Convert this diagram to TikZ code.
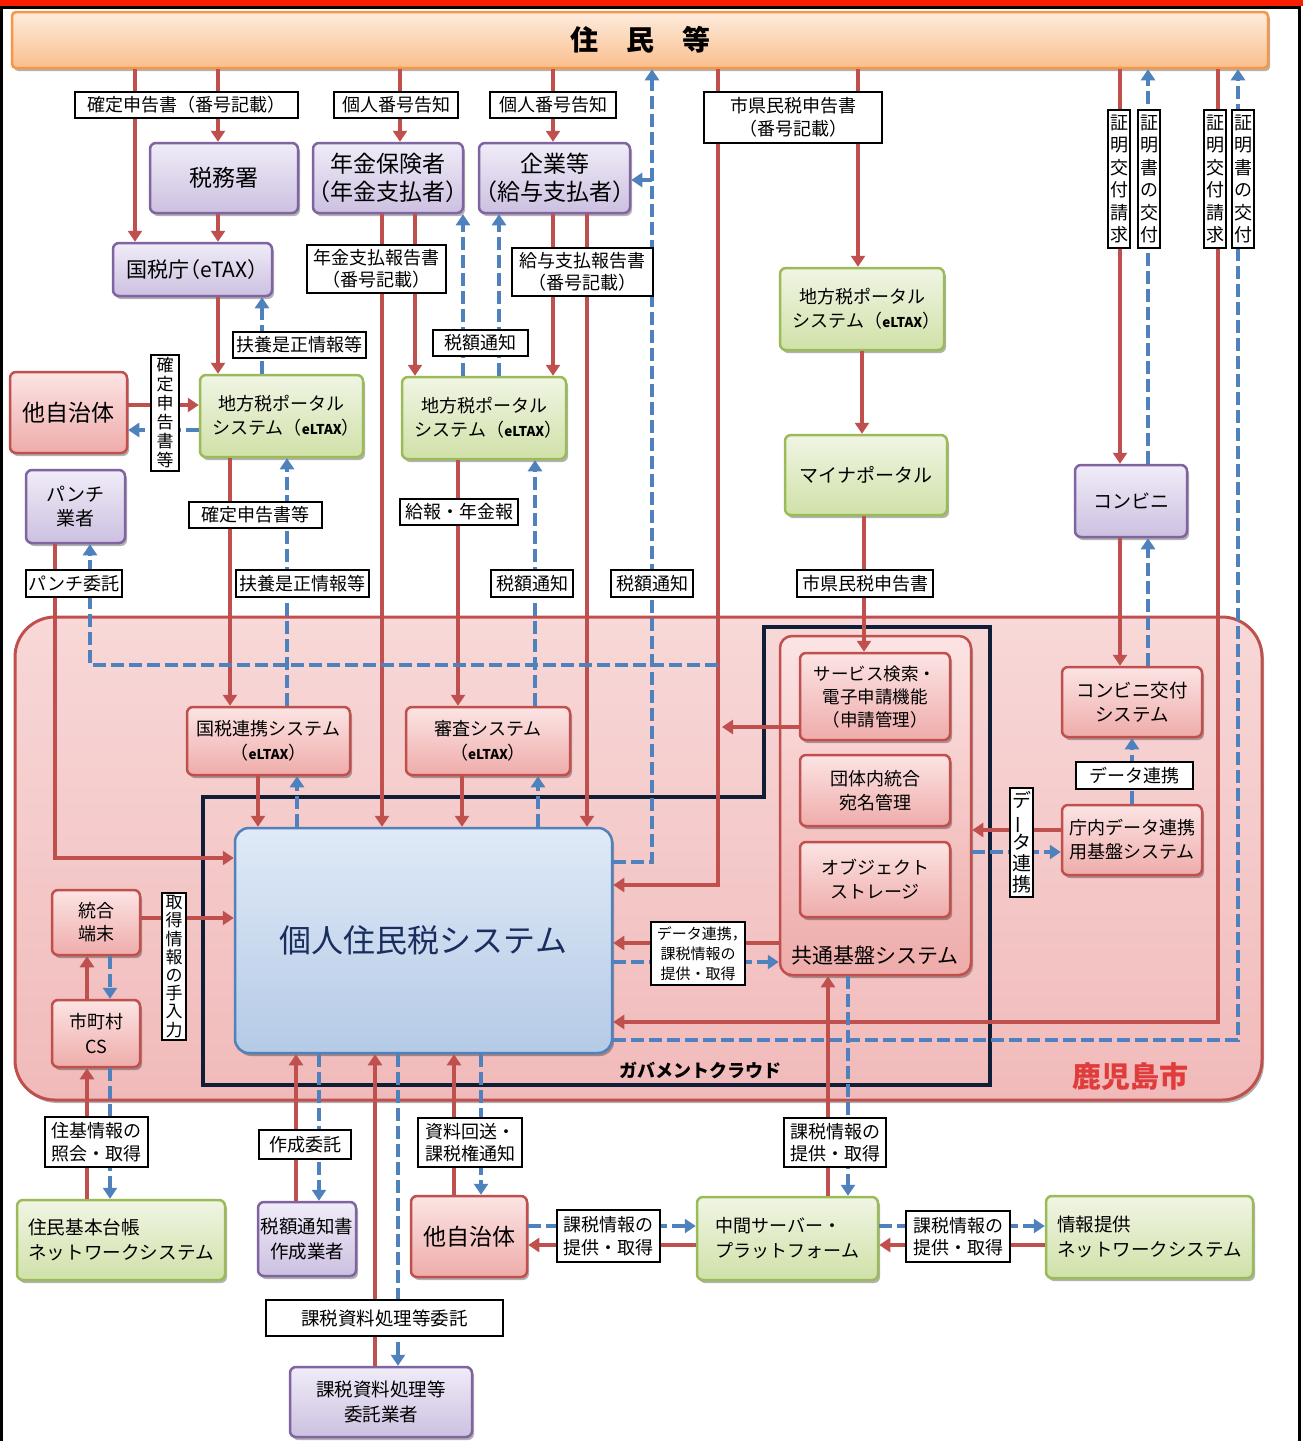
\documentclass[tikz,border=0pt]{standalone}
\usepackage{fontspec}
\usepackage{graphicx}
\setmainfont{Noto Sans CJK JP}
\usetikzlibrary{arrows.meta,shadows}
\definecolor{cband}{RGB}{250,30,0}
\definecolor{cred}{RGB}{192,80,77}
\definecolor{cblue}{RGB}{79,129,189}
\definecolor{cnavy}{RGB}{16,30,56}
\definecolor{cpurB}{RGB}{128,100,162}
\definecolor{cpurT}{RGB}{240,236,248}
\definecolor{cpurF}{RGB}{204,192,224}
\definecolor{cgrnB}{RGB}{155,187,89}
\definecolor{cgrnT}{RGB}{240,245,228}
\definecolor{cgrnF}{RGB}{208,225,168}
\definecolor{cpnkT}{RGB}{252,228,228}
\definecolor{cpnkF}{RGB}{238,172,170}
\definecolor{cregT}{RGB}{248,216,216}
\definecolor{cregF}{RGB}{241,186,186}
\definecolor{corgB}{RGB}{247,150,70}
\definecolor{corgT}{RGB}{253,236,222}
\definecolor{corgF}{RGB}{250,190,140}
\definecolor{cbluT}{RGB}{224,234,247}
\definecolor{cbluF}{RGB}{180,202,230}
\definecolor{ctxtblue}{RGB}{25,45,95}
\definecolor{ckago}{RGB}{225,60,60}
\newcommand\myfs[2]{\fontsize{#1}{#2}\selectfont}
\newcommand\lp{\kern-.5em（}
\newcommand\rp{）\kern-.5em}
\newcommand\eltax{{\myfs{13.5}{13.5}\bfseries eLTAX}}
\newcommand\vbar{\rotatebox[origin=c]{90}{ー}}
\begin{document}
\begin{tikzpicture}[x=1pt,y=-1pt,
  shad/.style={drop shadow={shadow xshift=2pt,shadow yshift=-3pt,opacity=.3,fill=black}},
  box/.style={rounded corners=6pt,line width=2.5pt,inner sep=0pt,align=center,shad},
  pbox/.style={box,draw=cpurB,top color=cpurT,bottom color=cpurF},
  gbox/.style={box,draw=cgrnB,top color=cgrnT,bottom color=cgrnF},
  rbox/.style={box,draw=cred,top color=cpnkT,bottom color=cpnkF},
  lab/.style={draw=black,fill=white,line width=1.8pt,inner sep=0pt,align=center,font=\myfs{18}{22.5}},
  arr/.style={-{Triangle[width=14pt,length=11pt]}},
  rl/.style={draw=cred,line width=4.2pt},
  bl/.style={draw=cblue,line width=4.2pt,dash pattern=on 13pt off 5pt},
]
\useasboundingbox (0,0) rectangle (1303,1441);
\fill[white] (0,0) rectangle (1303,1441);
\fill[cband] (0,0) rectangle (1303,6);
\draw[black,line width=3pt] (1.5,1441) -- (1.5,7.5) -- (1299,7.5) -- (1299,1441);

% region and cloud
\node[draw=cred,line width=3pt,rounded corners=40pt,top color=cregT,bottom color=cregF,minimum width=1247,minimum height=483,inner sep=0pt,shad] (region) at (638.5,858.5) {};
\draw[cnavy,line width=3.5pt] (203,797) -- (764,797) -- (764,627) -- (990,627) -- (990,1085) -- (203,1085) -- cycle;
\node[font=\myfs{18}{18}\bfseries] (gov) at (700,1070) {ガバメントクラウド};
\node[font=\myfs{29}{29}\bfseries,text=ckago] (kago) at (1130,1077) {鹿児島市};

% top bar
\node[box,rounded corners=4pt,draw=corgB,top color=corgT,bottom color=corgF,minimum width=1256,minimum height=56,font=\myfs{28}{30}\bfseries] (bar) at (640,40) {住　民　等};

% purple boxes
\node[pbox,minimum width=148,minimum height=70,font=\myfs{23}{28}] (zeimusho) at (224,178) {税務署};
\node[pbox,minimum width=150,minimum height=70,font=\myfs{23}{28}] (nenkin) at (388,178) {年金保険者\\\lp 年金支払者\rp};
\node[pbox,minimum width=151,minimum height=70,font=\myfs{23}{28}] (kigyo) at (554.5,178) {企業等\\\lp 給与支払者\rp};
\node[pbox,minimum width=159,minimum height=53,font=\myfs{21}{24}] (kokuzeicho) at (192.5,269.5) {国税庁\lp eTAX\rp};
\node[pbox,minimum width=112,minimum height=72,font=\myfs{19}{24}] (konbini) at (1131,501) {コンビニ};
\node[pbox,minimum width=99,minimum height=73,font=\myfs{19}{24}] (punch) at (75.5,506.5) {パンチ\\業者};
\node[pbox,minimum width=98,minimum height=74,font=\myfs{18.5}{25}] (sakusei) at (307,1239) {税額通知書\\作成業者};
\node[pbox,minimum width=182,minimum height=70,font=\myfs{18.5}{25}] (itaku) at (381,1402) {課税資料処理等\\委託業者};

% green boxes
\node[gbox,minimum width=164,minimum height=82,font=\myfs{18}{24}] (portalR) at (862,309) {地方税ポータル\\システム（\eltax\rp};
\node[gbox,minimum width=162,minimum height=80,font=\myfs{19}{24}] (myna) at (866,475) {マイナポータル};
\node[gbox,minimum width=163,minimum height=82,font=\myfs{18}{24}] (portalL) at (281.5,416) {地方税ポータル\\システム（\eltax\rp};
\node[gbox,minimum width=164,minimum height=82,font=\myfs{18}{24}] (portalM) at (484,418) {地方税ポータル\\システム（\eltax\rp};
\node[gbox,minimum width=208,minimum height=80,align=left,font=\myfs{18.6}{25}] (juki) at (121,1240) {住民基本台帳\\ネットワークシステム};
\node[gbox,minimum width=181,minimum height=83,align=left,font=\myfs{18}{25}] (chukan) at (787.5,1238.5) {中間サーバー・\\プラットフォーム};
\node[gbox,minimum width=207,minimum height=82,align=left,font=\myfs{18.5}{25}] (joho) at (1149.5,1237) {情報提供\\ネットワークシステム};

% red/pink boxes
\node[rbox,minimum width=117,minimum height=81,font=\myfs{23}{28}] (taL) at (68.5,412.5) {他自治体};
\node[rbox,minimum width=163,minimum height=68,font=\myfs{18}{24}] (kokuren) at (268.5,741) {国税連携システム\\（\eltax）};
\node[rbox,minimum width=164,minimum height=68,font=\myfs{18}{24}] (shinsa) at (488,741) {審査システム\\（\eltax）};
\node[rbox,rounded corners=12pt,minimum width=191,minimum height=339] (kyotsu) at (875.5,805.5) {};
\node[font=\myfs{21}{21}] (kyotsuT) at (875,955) {共通基盤システム};
\node[rbox,minimum width=150,minimum height=87,font=\myfs{17.5}{23}] (service) at (875,696.5) {サービス検索・\\電子申請機能\\（申請管理）};
\node[rbox,minimum width=150,minimum height=71,font=\myfs{18}{24}] (atena) at (875,790.5) {団体内統合\\宛名管理};
\node[rbox,minimum width=150,minimum height=75,font=\myfs{18}{24}] (object) at (875,879.5) {オブジェクト\\ストレージ};
\node[rbox,minimum width=140,minimum height=70,font=\myfs{18.5}{24}] (konbiniSys) at (1132,702) {コンビニ交付\\システム};
\node[rbox,minimum width=140,minimum height=70,font=\myfs{18}{24}] (chonai) at (1132,840) {庁内データ連携\\用基盤システム};
\node[rbox,minimum width=88,minimum height=65,font=\myfs{18}{23}] (togo) at (96,922.5) {統合\\端末};
\node[rbox,minimum width=88,minimum height=67,font=\myfs{18}{24.5}] (cs) at (96,1033.5) {市町村\\CS};
\node[rbox,minimum width=116,minimum height=81,font=\myfs{23}{28}] (taB) at (469,1236.5) {他自治体};

% main system
\node[box,rounded corners=14pt,draw=cblue,top color=cbluT,bottom color=cbluF,minimum width=377,minimum height=225,font=\myfs{32}{32},text=ctxtblue] (kojin) at (423.5,940.5) {個人住民税システム};

% ---- connectors: top
\draw[rl,arr] (bar.south -| 135,0) -- (kokuzeicho.north -| 135,0);
\draw[rl,arr] (bar.south -| 218,0) -- (zeimusho.north -| 218,0);
\draw[rl,arr] (zeimusho.south -| 218,0) -- (kokuzeicho.north -| 218,0);
\draw[rl,arr] (bar.south -| 400,0) -- (nenkin.north -| 400,0);
\draw[rl,arr] (bar.south -| 553,0) -- (kigyo.north -| 553,0);
\draw[bl,arr] (kojin.east |- 0,862) -| (bar.south -| 652,0);
\coordinate (k652) at (652,180);
\draw[bl,arr] (k652) -- (kigyo.east |- k652);
\draw[rl,arr] (bar.south -| 718,0) |- (kojin.east |- 0,885);
\draw[rl,arr] (bar.south -| 858,0) -- (portalR.north -| 858,0);
\draw[rl,arr] (portalR.south -| 862,0) -- (myna.north -| 862,0);
\draw[rl,arr] (myna.south -| 864,0) -- (service.north -| 864,0);
\draw[rl,arr] (bar.south -| 1120,0) -- (konbini.north -| 1120,0);
\draw[rl,arr] (konbini.south -| 1120,0) -- (konbiniSys.north -| 1120,0);
\draw[bl,arr] (konbini.north -| 1148,0) -- (bar.south -| 1148,0);
\draw[bl,arr] (konbiniSys.north -| 1148,0) -- (konbini.south -| 1148,0);
\draw[rl,arr] (bar.south -| 1218,0) |- (kojin.east |- 0,1022);
\draw[bl,arr] (kojin.east |- 0,1040) -| (bar.south -| 1238,0);

% middle
\draw[rl,arr] (nenkin.south -| 382,0) -- (kojin.north -| 382,0);
\draw[rl,arr] (nenkin.south -| 415,0) -- (portalM.north -| 415,0);
\draw[bl,arr] (portalM.north -| 463,0) -- (nenkin.south -| 463,0);
\draw[bl,arr] (portalM.north -| 499,0) -- (kigyo.south -| 499,0);
\draw[rl,arr] (kigyo.south -| 553,0) -- (portalM.north -| 553,0);
\draw[rl,arr] (kigyo.south -| 587,0) -- (kojin.north -| 587,0);

% left
\draw[rl,arr] (kokuzeicho.south -| 218,0) -- (portalL.north -| 218,0);
\draw[bl,arr] (portalL.north -| 262,0) -- (kokuzeicho.south -| 262,0);
\draw[rl,arr] (taL.east |- 0,405) -- (portalL.west |- 0,405);
\draw[bl,arr] (portalL.west |- 0,430) -- (taL.east |- 0,430);
\draw[rl,arr] (portalL.south -| 230,0) -- (kokuren.north -| 230,0);
\draw[bl,arr] (kokuren.north -| 287,0) -- (portalL.south -| 287,0);
\draw[rl,arr] (kokuren.south -| 258,0) -- (kojin.north -| 258,0);
\draw[bl,arr] (kojin.north -| 297,0) -- (kokuren.south -| 297,0);
\draw[rl,arr] (portalM.south -| 458,0) -- (shinsa.north -| 458,0);
\draw[bl,arr] (shinsa.north -| 535,0) -- (portalM.south -| 535,0);
\draw[rl,arr] (shinsa.south -| 462,0) -- (kojin.north -| 462,0);
\draw[bl,arr] (kojin.north -| 538,0) -- (shinsa.south -| 538,0);
\draw[rl,arr] (punch.south -| 55,0) |- (kojin.west |- 0,858);
\coordinate (p718) at (718,665);
\draw[bl,arr] (p718) -| (punch.south -| 90,0);

% right inside
\coordinate (s720) at (722,727);
\draw[rl,arr] (service.west |- s720) -- (s720);
\draw[rl,arr] (kyotsu.west |- 0,943) -- (kojin.east |- 0,943);
\draw[bl,arr] (kojin.east |- 0,962) -- (kyotsu.west |- 0,962);
\draw[rl,arr] (chonai.west |- 0,830) -- (kyotsu.east |- 0,830);
\draw[bl,arr] (kyotsu.east |- 0,852) -- (chonai.west |- 0,852);
\draw[bl,arr] (chonai.north -| 1132,0) -- (konbiniSys.south -| 1132,0);

% bottom
\draw[rl,arr] (togo.east |- 0,918) -- (kojin.west |- 0,918);
\draw[rl,arr] (cs.north -| 87,0) -- (togo.south -| 87,0);
\draw[bl,arr] (togo.south -| 110,0) -- (cs.north -| 110,0);
\draw[rl,arr] (juki.north -| 87,0) -- (cs.south -| 87,0);
\draw[bl,arr] (cs.south -| 110,0) -- (juki.north -| 110,0);
\draw[rl,arr] (sakusei.north -| 296,0) -- (kojin.south -| 296,0);
\draw[bl,arr] (kojin.south -| 319,0) -- (sakusei.north -| 319,0);
\draw[rl,arr] (itaku.north -| 375,0) -- (kojin.south -| 375,0);
\draw[bl,arr] (kojin.south -| 398,0) -- (itaku.north -| 398,0);
\draw[rl,arr] (taB.north -| 454,0) -- (kojin.south -| 454,0);
\draw[bl,arr] (kojin.south -| 481,0) -- (taB.north -| 481,0);
\draw[bl,arr] (taB.east |- 0,1226) -- (chukan.west |- 0,1226);
\draw[rl,arr] (chukan.west |- 0,1245) -- (taB.east |- 0,1245);
\draw[rl,arr] (chukan.north -| 828,0) -- (kyotsu.south -| 828,0);
\draw[bl,arr] (kyotsu.south -| 848,0) -- (chukan.north -| 848,0);
\draw[bl,arr] (chukan.east |- 0,1226) -- (joho.west |- 0,1226);
\draw[rl,arr] (joho.west |- 0,1245) -- (chukan.east |- 0,1245);

% ---- labels
\node[lab,minimum width=223,minimum height=26] (l1) at (186.5,105) {確定申告書（番号記載）};
\node[lab,minimum width=124,minimum height=26] (l2) at (396,105) {個人番号告知};
\node[lab,minimum width=126,minimum height=26] (l3) at (553,105) {個人番号告知};
\node[lab,minimum width=178,minimum height=51] (l4) at (793,117.5) {市県民税申告書\\（番号記載）};
\node[lab,minimum width=22,minimum height=138] (v1) at (1119,179) {証\\明\\交\\付\\請\\求};
\node[lab,minimum width=22,minimum height=138] (v2) at (1149,179) {証\\明\\書\\の\\交\\付};
\node[lab,minimum width=22,minimum height=138] (v3) at (1215,179) {証\\明\\交\\付\\請\\求};
\node[lab,minimum width=22,minimum height=138] (v4) at (1243,179) {証\\明\\書\\の\\交\\付};
\node[lab,minimum width=139,minimum height=48] (l5) at (376.5,269) {年金支払報告書\\（番号記載）};
\node[lab,minimum width=141,minimum height=48] (l6) at (582.5,272) {給与支払報告書\\（番号記載）};
\node[lab,minimum width=133,minimum height=26] (l7) at (299.5,345) {扶養是正情報等};
\node[lab,minimum width=95,minimum height=26] (l8) at (480.5,343) {税額通知};
\node[lab,minimum width=28,minimum height=116,font=\myfs{17}{19}] (v5) at (165,413) {確\\定\\申\\告\\書\\等};
\node[lab,minimum width=133,minimum height=26] (l9) at (255.5,515) {確定申告書等};
\node[lab,minimum width=118,minimum height=26] (l10) at (459,512) {給報・年金報};
\node[lab,minimum width=133,minimum height=27] (l11) at (302.5,583.5) {扶養是正情報等};
\node[lab,minimum width=96,minimum height=27] (l12) at (74,583.5) {パンチ委託};
\node[lab,minimum width=82,minimum height=27] (l13) at (532,583.5) {税額通知};
\node[lab,minimum width=82,minimum height=27] (l14) at (652,583.5) {税額通知};
\node[lab,minimum width=136,minimum height=27] (l15) at (865,583.5) {市県民税申告書};
\node[lab,minimum width=117,minimum height=27] (l16) at (1134.5,775.5) {データ連携};
\node[lab,minimum width=23,minimum height=109,font=\myfs{19}{21}] (v6) at (1021.5,842.5) {デ\\\vbar\\タ\\連\\携};
\node[lab,minimum width=24,minimum height=147,font=\myfs{17}{18.2}] (v7) at (174,966.5) {取\\得\\情\\報\\の\\手\\入\\力};
\node[lab,minimum width=94,minimum height=63,font=\myfs{15}{20}] (l17) at (698,953.5) {データ連携，\kern-.5em\\課税情報の\\提供・取得};
\node[lab,minimum width=103,minimum height=50] (l18) at (96.5,1142) {住基情報の\\照会・取得};
\node[lab,minimum width=92,minimum height=29] (l19) at (305,1144.5) {作成委託};
\node[lab,minimum width=104,minimum height=49] (l20) at (470,1142.5) {資料回送・\\課税権通知};
\node[lab,minimum width=103,minimum height=52] (l21) at (608.5,1236) {課税情報の\\提供・取得};
\node[lab,minimum width=102,minimum height=49] (l22) at (835,1142.5) {課税情報の\\提供・取得};
\node[lab,minimum width=104,minimum height=51] (l23) at (958,1236.5) {課税情報の\\提供・取得};
\node[lab,minimum width=237,minimum height=36,font=\myfs{18.5}{22}] (l24) at (384.5,1318) {課税資料処理等委託};
\end{tikzpicture}
\end{document}
